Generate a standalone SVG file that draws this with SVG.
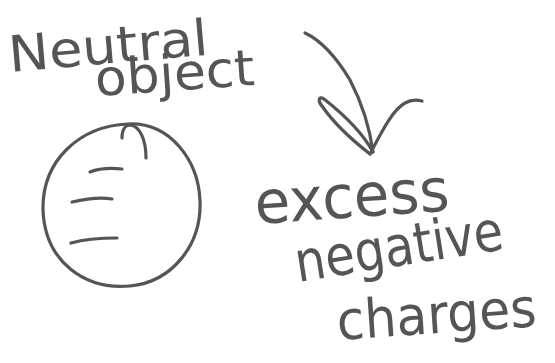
<svg xmlns="http://www.w3.org/2000/svg" width="555" height="363" viewBox="0 0 555 363">
<style>
.ink{fill:none;stroke:#555;stroke-width:3.2;stroke-linecap:round;stroke-linejoin:round}
.hw{font-family:"DejaVu Sans","Liberation Sans",sans-serif;fill:#555;font-weight:normal}
</style>
<rect width="555" height="363" fill="#fff"/>
<g id="label-neutral">
<text class="hw" x="10" y="72" font-size="50" textLength="200" lengthAdjust="spacingAndGlyphs" transform="rotate(-5 10 72)">Neutral</text>
<text class="hw" x="96" y="96" font-size="50" textLength="160" lengthAdjust="spacingAndGlyphs" transform="rotate(-4 96 96)">object</text>
</g>
<g id="object">
<path class="ink" d="M128,124 C170,122 198,160 200,200 C202,245 172,282 130,286 C85,290 45,262 43,210 C42,160 80,126 128,124 Z"/>
<path class="ink" d="M122,138 C122,130 125,125 130,125 C140,126 146,140 146,158"/>
<path class="ink" d="M90,172 C100,168 112,168 122,169"/>
<path class="ink" d="M72,202 C85,199 100,197 112,199"/>
<path class="ink" d="M71,243 C85,239 102,238 117,238"/>
</g>
<g id="connectors">
<path class="ink" d="M305,33 C320,40 335,55 350,80 C363,105 370,130 373,152"/>
<path class="ink" d="M373,152 C360,128 338,110 324,99 C318,95 318,102 322,106 C335,125 352,140 370,154"/>
<path class="ink" d="M370,154 C380,135 392,110 405,103 C412,99 418,100 422,101"/>
</g>
<g id="label-charges">
<text class="hw" x="256" y="224" font-size="60" textLength="195" lengthAdjust="spacingAndGlyphs" transform="rotate(-4 256 224)">excess</text>
<text class="hw" x="298" y="282" font-size="56" textLength="210" lengthAdjust="spacingAndGlyphs" transform="rotate(-9 298 282)">negative</text>
<text class="hw" x="338" y="340" font-size="54" textLength="200" lengthAdjust="spacingAndGlyphs" transform="rotate(-4 338 340)">charges</text>
</g>
</svg>
